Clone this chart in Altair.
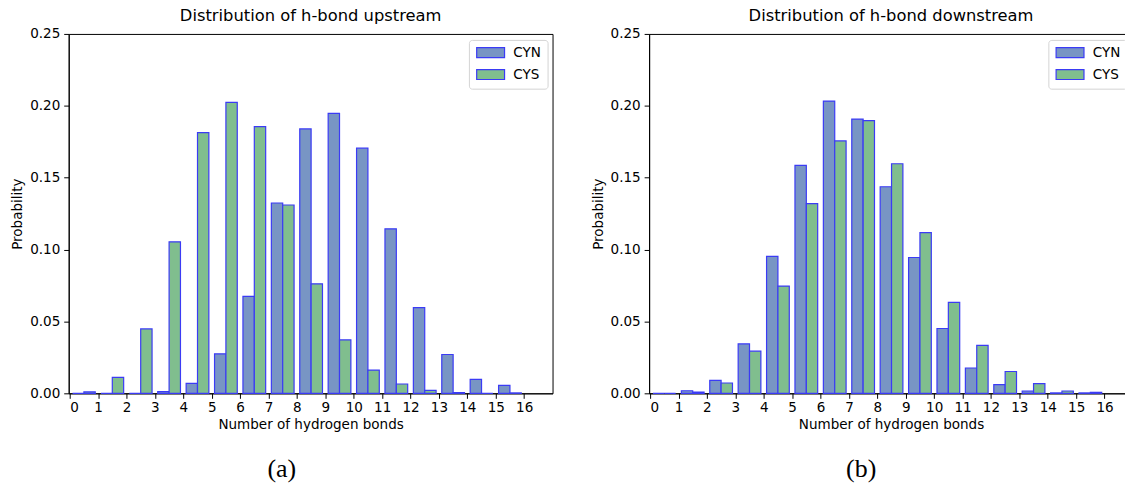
import altair as alt
import pandas as pd

# Bin index = number of hydrogen bonds (bin k covers [k, k+1))
bins = list(range(16))
series_names = ["CYN", "CYS"]

# Upstream probabilities per bin
up_cyn = [0.0, 0.0, 0.0, 0.0012, 0.0069, 0.0275, 0.0675, 0.1324, 0.1839, 0.1948,
          0.1705, 0.1144, 0.0596, 0.0270, 0.0097, 0.0055]
up_cys = [0.0010, 0.0111, 0.0448, 0.1054, 0.1814, 0.2024, 0.1855, 0.1310, 0.0762, 0.0372,
          0.0162, 0.0065, 0.0021, 0.0005, 0.0, 0.0003]

# Downstream probabilities per bin
down_cyn = [0.0, 0.0018, 0.0090, 0.0344, 0.0952, 0.1585, 0.2033, 0.1908, 0.1437, 0.0945,
            0.0451, 0.0176, 0.0060, 0.0016, 0.0003, 0.0003]
down_cys = [0.0, 0.0009, 0.0072, 0.0293, 0.0746, 0.1319, 0.1756, 0.1897, 0.1597, 0.1118,
            0.0633, 0.0333, 0.0152, 0.0067, 0.0016, 0.0007]

x_ticks = list(range(17))
y_ticks = [0.0, 0.05, 0.10, 0.15, 0.20, 0.25]

FONT = "DejaVu Sans"
TXT = 13.6
EDGE = "#3b3bf5"
FILLS = ["#7895c4", "#80be8e"]
PLOT_W, PLOT_H = 486, 361


def panel_frame(cyn, cys):
    rows = []
    for b, a, c in zip(bins, cyn, cys):
        rows.append({"bin": b, "series": series_names[0], "p": a})
        rows.append({"bin": b, "series": series_names[1], "p": c})
    return pd.DataFrame(rows)


def panel(df, title, caption, caption_x, legend_x):
    base = alt.Chart(df).transform_calculate(
        x0="datum.bin + (datum.series == 'CYN' ? 0.1 : 0.5)",
        x1="datum.x0 + 0.4",
    )
    bars = base.mark_rect(stroke=EDGE, strokeWidth=1.2).encode(
        x=alt.X(
            "x0:Q",
            scale=alt.Scale(domain=[-0.035, 17], nice=False, zero=False),
            axis=alt.Axis(values=x_ticks, format="d", title="Number of hydrogen bonds",
                          titlePadding=4, labelPadding=2),
        ),
        x2="x1:Q",
        y=alt.Y(
            "p:Q",
            scale=alt.Scale(domain=[0, 0.25], nice=False),
            axis=alt.Axis(values=y_ticks, format=".2f", title="Probability",
                          titlePadding=5, labelPadding=4),
        ),
        y2=alt.datum(0),
        color=alt.Color(
            "series:N",
            scale=alt.Scale(domain=series_names, range=FILLS),
            legend=alt.Legend(
                title=None,
                orient="none",
                legendX=legend_x,
                legendY=6,
                padding=6,
                fillColor="white",
                strokeColor="#d4d4d4",
                cornerRadius=3,
                symbolType="M-2.8,-1H2.8V1H-2.8Z",
                symbolSize=100,
                symbolOffset=9,
                symbolStrokeColor=EDGE,
                symbolStrokeWidth=1.2,
                labelOffset=16,
                labelFontSize=TXT,
                labelFont=FONT,
                labelColor="black",
                rowPadding=6,
            ),
        ),
    )
    cap = base.mark_text(font="Liberation Serif", fontSize=26, baseline="middle",
                         align="center", color="black").encode(
        x=alt.value(caption_x),
        y=alt.value(437),
        text=alt.value(caption),
    ).transform_filter("datum.bin == 0 && datum.series == 'CYN'")
    return alt.layer(bars, cap).properties(
        width=PLOT_W,
        height=PLOT_H,
        title=alt.TitleParams(title, fontSize=16.4, font=FONT, fontWeight="normal",
                              color="black", anchor="middle", offset=3),
    )


left = panel(panel_frame(up_cyn, up_cys), "Distribution of h-bond upstream", "(a)", 214, 402)
right = panel(panel_frame(down_cyn, down_cys), "Distribution of h-bond downstream", "(b)", 213, 401)

chart = alt.hconcat(left, right, spacing=37).resolve_scale(
    color="independent"
).resolve_legend(
    color="independent"
).properties(
    padding={"left": 10, "top": 6, "right": -9, "bottom": 0},
    background="white",
).configure_view(
    stroke="black", strokeWidth=1
).configure_axis(
    grid=False,
    domainColor="black",
    tickColor="black",
    tickSize=5,
    labelColor="black",
    titleColor="black",
    labelFont=FONT,
    titleFont=FONT,
    labelFontSize=TXT,
    titleFontSize=TXT,
    titleFontWeight="normal",
)

chart.save("out.html", embed_options={"renderer": "svg", "actions": False})
